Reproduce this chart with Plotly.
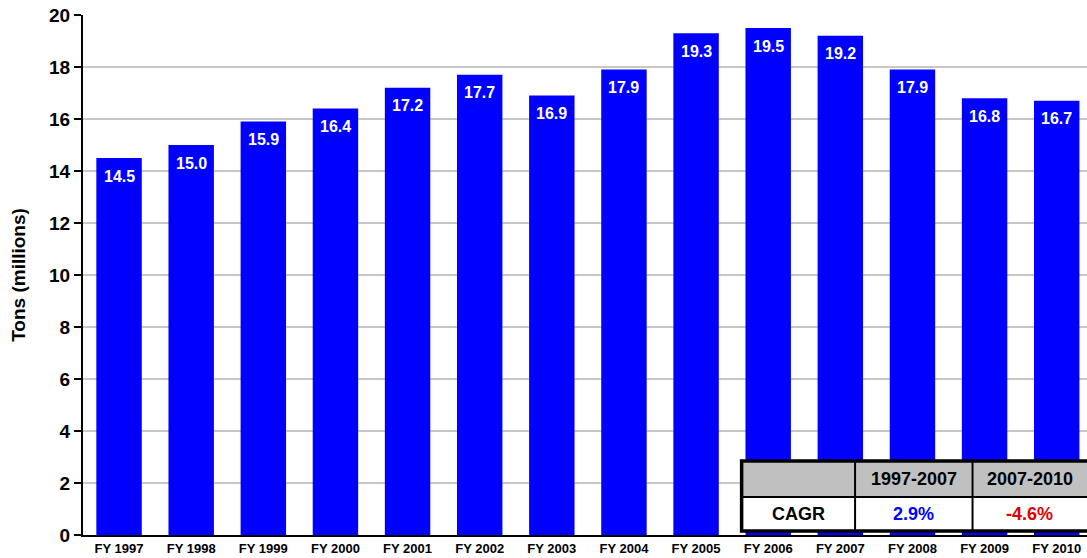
import plotly.graph_objects as go

# Annual tonnage, fiscal years 1997-2010
years = ["FY 1997", "FY 1998", "FY 1999", "FY 2000", "FY 2001", "FY 2002", "FY 2003",
         "FY 2004", "FY 2005", "FY 2006", "FY 2007", "FY 2008", "FY 2009", "FY 2010"]
tons = [14.5, 15.0, 15.9, 16.4, 17.2, 17.7, 16.9, 17.9, 19.3, 19.5, 19.2, 17.9, 16.8, 16.7]

# Growth table
table_header = ["", "1997-2007", "2007-2010"]
table_row = ["CAGR", "2.9%", "-4.6%"]
table_colors = ["black", "#0000FF", "#E00000"]

y_ticks = [0, 2, 4, 6, 8, 10, 12, 14, 16, 18, 20]

FONT = "Liberation Sans, Arial, sans-serif"

fig = go.Figure()
fig.add_trace(go.Bar(
    x=years, y=tons,
    marker=dict(color="#0000FF", line=dict(width=0)),
    width=0.63,
    hoverinfo="x+y",
))

# value labels just under each bar top
for yr, v in zip(years, tons):
    fig.add_annotation(
        x=yr, y=v, xref="x", yref="y", text=f"<b>{v:.1f}</b>",
        showarrow=False, yshift=-18, yanchor="middle", xanchor="center",
        font=dict(family=FONT, size=16, color="white"),
    )

# CAGR table drawn in paper coordinates over the lower right corner
xs = [0.656, 0.769, 0.886, 1.0]
y_top, y_mid, y_bot = 0.1423, 0.0731, 0.0077
fig.add_shape(type="rect", xref="paper", yref="paper", x0=xs[0], x1=xs[3] + 0.01,
              y0=y_mid, y1=y_top, fillcolor="#C0C0C0", line=dict(width=0), layer="above")
fig.add_shape(type="rect", xref="paper", yref="paper", x0=xs[0], x1=xs[3] + 0.01,
              y0=y_bot, y1=y_mid, fillcolor="white", line=dict(width=0), layer="above")
for xv in xs[1:3]:
    fig.add_shape(type="line", xref="paper", yref="paper", x0=xv, x1=xv,
                  y0=y_bot, y1=y_top, line=dict(color="black", width=2), layer="above")
fig.add_shape(type="line", xref="paper", yref="paper", x0=xs[0], x1=xs[3] + 0.01,
              y0=y_mid, y1=y_mid, line=dict(color="black", width=2), layer="above")
fig.add_shape(type="rect", xref="paper", yref="paper", x0=xs[0], x1=xs[3] + 0.01,
              y0=y_bot, y1=y_top, fillcolor="rgba(0,0,0,0)",
              line=dict(color="black", width=3.5), layer="above")
for i in range(3):
    cx = (xs[i] + xs[i + 1]) / 2
    if table_header[i]:
        fig.add_annotation(x=cx, y=(y_mid + y_top) / 2, xref="paper", yref="paper",
                           text=f"<b>{table_header[i]}</b>", showarrow=False,
                           xanchor="center", yanchor="middle",
                           font=dict(family=FONT, size=18, color="black"))
    fig.add_annotation(x=cx, y=(y_bot + y_mid) / 2, xref="paper", yref="paper",
                       text=f"<b>{table_row[i]}</b>", showarrow=False,
                       xanchor="center", yanchor="middle",
                       font=dict(family=FONT, size=18, color=table_colors[i]))

fig.update_layout(
    width=1087, height=558,
    margin=dict(l=83, r=0, t=15, b=23),
    paper_bgcolor="white", plot_bgcolor="white",
    showlegend=False,
    font=dict(family=FONT, color="black"),
)
fig.update_xaxes(
    range=[-0.5, 13.42],
    showline=True, linecolor="black", linewidth=2,
    ticks="", showgrid=False,
    tickfont=dict(family=FONT, size=13, color="black", weight="bold"),
)
fig.update_yaxes(
    range=[0, 20], tickvals=y_ticks,
    showline=True, linecolor="black", linewidth=2,
    ticks="outside", ticklen=7, tickcolor="black", tickwidth=2,
    showgrid=True, gridcolor="#C8C8C8", gridwidth=1.5,
    zeroline=False,
    tickfont=dict(family=FONT, size=19, color="black", weight="bold"),
    title=dict(text="<b>Tons (millions)</b>", standoff=18,
               font=dict(family=FONT, size=19, color="black")),
)

fig.write_html("out.html")
